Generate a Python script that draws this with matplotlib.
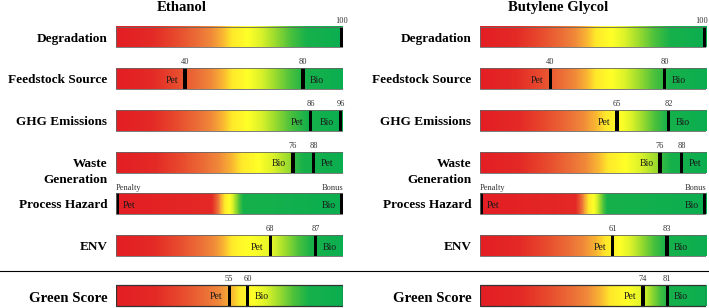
import numpy as np
import matplotlib
matplotlib.use("Agg")
import matplotlib.pyplot as plt
from matplotlib.colors import LinearSegmentedColormap
from matplotlib.patches import Rectangle
from matplotlib.lines import Line2D

plt.rcParams['font.family'] = ['Liberation Serif', 'DejaVu Serif']

# ---------------- data ----------------
categories = ["Degradation", "Feedstock Source", "GHG Emissions",
              "Waste\nGeneration", "Process Hazard", "ENV", "Green Score"]
panel_titles = ["Ethanol", "Butylene Glycol"]

# marker positions along the 0-100 bar, as drawn in the picture
ethanol_pos = [[100], [30.4, 82.4], [85.7, 99.0], [78.0, 87.0], [0, 100], [68.0, 87.9], [49.9, 58.0]]
butylene_pos = [[100], [31.2, 81.7], [60.6, 83.4], [79.7, 89.2], [0, 100], [58.7, 82.7], [72.1, 82.9]]

# marker value labels (None -> hazard labels)
ethanol_values = [[100], [40, 80], [86, 96], [76, 88], [None, None], [68, 87], [55, 60]]
butylene_values = [[100], [40, 80], [65, 82], [76, 88], [None, None], [61, 83], [74, 81]]
hazard_labels = ["Penalty", "Bonus"]

# series tags inside the bars
ethanol_tags = [[None], ["Pet", "Bio"], ["Pet", "Bio"], ["Bio", "Pet"], ["Pet", "Bio"], ["Pet", "Bio"], ["Pet", "Bio"]]
butylene_tags = [[None], ["Pet", "Bio"], ["Pet", "Bio"], ["Bio", "Pet"], ["Pet", "Bio"], ["Pet", "Bio"], ["Pet", "Bio"]]

# ---------------- style ----------------
ethanol_sides = [[None], ['L', 'R'], ['L', 'L'], ['L', 'R'], ['R', 'L'], ['L', 'R'], ['L', 'R']]
butylene_sides = [[None], ['L', 'R'], ['L', 'R'], ['L', 'R'], ['R', 'L'], ['L', 'R'], ['L', 'R']]

hazard_grad = [(0, 0), (42, 0.15), (46, 0.45), (50, 0.58), (56, 0.84), (100, 1)]
ethanol_grad = [
    [(0, 0), (100, 1)],
    [(0, 0), (100, 1)],
    [(0, 0), (100, 1)],
    [(0, 0), (78, 0.72), (78.5, 0.8), (100, 1)],
    hazard_grad,
    [(0, 0), (45, 0.44), (55, 0.56), (68, 0.62), (88, 0.86), (100, 1)],
    [(0, 0), (50, 0.46), (58, 0.55), (85, 0.84), (100, 1)],
]
butylene_grad = [
    [(0, 0), (100, 1)],
    [(0, 0), (100, 1)],
    [(0, 0), (60.6, 0.56), (83.4, 0.85), (100, 1)],
    [(0, 0), (79.7, 0.72), (80.2, 0.8), (100, 1)],
    hazard_grad,
    [(0, 0), (58.7, 0.54), (82.7, 0.85), (100, 1)],
    [(0, 0), (72.1, 0.64), (82.9, 0.84), (100, 1)],
]

cmap = LinearSegmentedColormap.from_list("rg", [
    (0.0, '#e31e24'), (0.16, '#e42a26'), (0.27, '#e84c2e'), (0.36, '#ec6e37'),
    (0.42, '#f08a3a'), (0.47, '#f9b532'), (0.51, '#ffe82b'), (0.58, '#ffff28'),
    (0.64, '#dcf22a'), (0.70, '#9ddc2e'), (0.77, '#4cc13c'), (0.84, '#17b14b'),
    (1.0, '#0bae50')])

W, H = 709, 308
fig = plt.figure(figsize=(W / 100, H / 100), dpi=100)

row_y = list(np.arange(6)) + [6.19]
bar_h = 0.5
ylim = (6.499, -0.887)
mk_w = 1.45

panels = [
    (116, 343, 182, ethanol_pos, ethanol_values, ethanol_tags, ethanol_sides, ethanol_grad),
    (480, 706, 558, butylene_pos, butylene_values, butylene_tags, butylene_sides, butylene_grad),
]

edge_texts = []
xs = np.linspace(0, 100, 700)
for pi, (x0, x1, tx, pos, vals, tags, sides, grads) in enumerate(panels):
    ax = fig.add_axes([x0 / W, 0, (x1 - x0) / W, 1])
    ax.set_xlim(0, 100)
    ax.set_ylim(*ylim)
    ax.axis('off')
    px_x = (x1 - x0) / 100.0  # px per data unit
    lab_x = -8.5 / px_x
    fig.text(tx / W, 1 - 7.5 / H, panel_titles[pi], ha='center', va='center',
             fontsize=10.6, fontweight='bold')
    for i, cat in enumerate(categories):
        y = row_y[i]
        stops = grads[i]
        t = np.interp(xs, [s[0] for s in stops], [s[1] for s in stops])
        img = cmap(t)[None, :, :]
        ax.imshow(img, extent=(0, 100, y + bar_h / 2, y - bar_h / 2), aspect='auto',
                  interpolation='bilinear', zorder=1)
        is_gs = (cat == "Green Score")
        ax.add_patch(Rectangle((0, y - bar_h / 2), 100, bar_h, fill=False,
                               edgecolor='#333333' if is_gs else '#666666',
                               lw=0.9 if is_gs else 0.6, zorder=4))
        # row label
        if is_gs:
            ax.text(lab_x, y + 0.156, cat, ha='right', va='baseline', fontsize=10.7,
                    fontweight='bold', clip_on=False)
        else:
            for li, line in enumerate(cat.split("\n")):
                ax.text(lab_x, y + 0.11 + li * 0.40, line, ha='right', va='baseline',
                        fontsize=9.5, fontweight='bold', clip_on=False)
        # markers
        for k, p in enumerate(pos[i]):
            left = min(max(p - mk_w / 2, 0), 100 - mk_w)
            ax.add_patch(Rectangle((left, y - bar_h / 2), mk_w, bar_h, facecolor='black',
                                   edgecolor='none', zorder=3))
            c = left + mk_w / 2
            v = vals[i][k]
            if v is None:
                ha = 'left' if k == 0 else 'right'
                ax.text(0 if k == 0 else 100, y - bar_h / 2 - 0.075, hazard_labels[k],
                        ha=ha, va='baseline', fontsize=6, color='#333333', clip_on=False)
            else:
                tt = ax.text(c, y - bar_h / 2 - 0.096, str(v), ha='center', va='baseline',
                             fontsize=6, color='#333333', clip_on=False)
                edge_texts.append(tt)
            tag = tags[i][k]
            if tag:
                if sides[i][k] == 'L':
                    ax.text(p - 3.0, y + 0.1, tag, ha='right', va='baseline',
                            fontsize=7, color='#1a1a1a', zorder=5)
                else:
                    ax.text(p + 3.0, y + 0.1, tag, ha='left', va='baseline',
                            fontsize=7, color='#1a1a1a', zorder=5)

fig.add_artist(Line2D([0, 1], [1 - 271 / H] * 2, transform=fig.transFigure,
                      color='black', lw=0.8))

# keep value labels inside the figure
fig.canvas.draw()
r = fig.canvas.get_renderer()
for tt in edge_texts:
    bb = tt.get_window_extent(renderer=r)
    if bb.x1 > W - 1:
        tt.set_horizontalalignment('right')
        ax_ = tt.axes
        xr = ax_.transData.inverted().transform((W - 1.5, 0))[0]
        tt.set_x(xr)

fig.savefig("out.png", dpi=100)
